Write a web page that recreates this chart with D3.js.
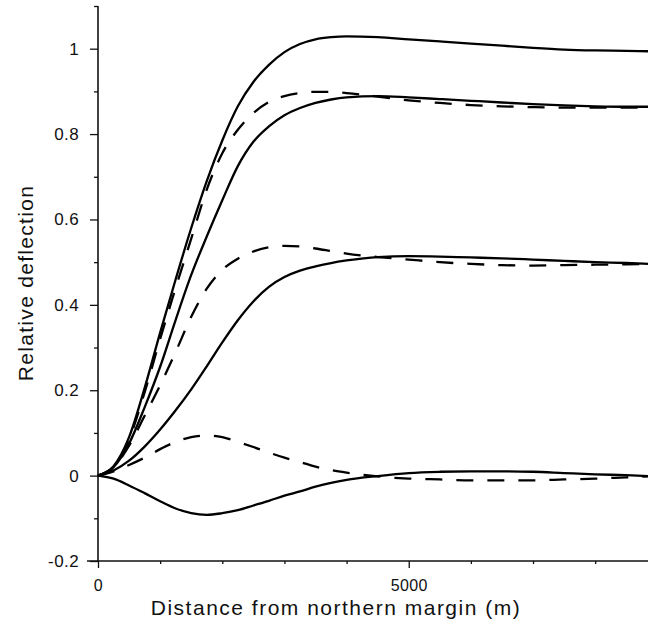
<!DOCTYPE html>
<html>
<head>
  <meta charset="utf-8">
  <title>Relative deflection</title>
  <script src="https://d3js.org/d3.v7.min.js"></script>
  <style>
    body { margin: 0; background: #fff; }
    text { font-family: "Liberation Sans", Arial, sans-serif; fill: #111; }
  </style>
</head>
<body>
  <script>
    // distance from northern margin (m), shared by every curve
    const distance = [0, 250, 500, 750, 1000, 1250, 1500, 1750, 2000, 2250, 2500, 2750, 3000, 3250,
      3500, 3750, 4000, 4500, 5000, 5500, 6000, 6500, 7000, 7500, 8000, 8500, 8850];

    // solid curves
    const solid1 = [0, 0.022, 0.09, 0.205, 0.335, 0.46, 0.58, 0.69, 0.785, 0.865, 0.922, 0.962, 0.992, 1.011,
      1.022, 1.027, 1.029, 1.027, 1.022, 1.017, 1.012, 1.007, 1.002, 0.998, 0.996, 0.995, 0.994];
    const solid2 = [0, 0.02, 0.075, 0.16, 0.255, 0.365, 0.47, 0.56, 0.645, 0.725, 0.782, 0.818, 0.844, 0.861,
      0.873, 0.881, 0.886, 0.889, 0.886, 0.882, 0.878, 0.874, 0.87, 0.867, 0.865, 0.864, 0.864];
    const solid3 = [0, 0.012, 0.035, 0.068, 0.108, 0.153, 0.202, 0.256, 0.312, 0.364, 0.408, 0.442, 0.465, 0.48,
      0.49, 0.498, 0.504, 0.512, 0.514, 0.513, 0.511, 0.509, 0.506, 0.503, 0.5, 0.498, 0.496];
    const solid4 = [0, -0.007, -0.023, -0.041, -0.06, -0.077, -0.088, -0.092, -0.088, -0.081, -0.07, -0.059,
      -0.047, -0.037, -0.026, -0.017, -0.01, -0.001, 0.006, 0.009, 0.01, 0.01, 0.009, 0.006, 0.003, 0.001, -0.001];

    // dashed curves
    const dashed1 = [0, 0.02, 0.085, 0.195, 0.32, 0.44, 0.555, 0.67, 0.755, 0.81, 0.849, 0.875, 0.889, 0.896,
      0.899, 0.899, 0.896, 0.888, 0.879, 0.873, 0.868, 0.865, 0.863, 0.862, 0.862, 0.862, 0.862];
    const dashed2 = [0, 0.02, 0.07, 0.14, 0.212, 0.29, 0.372, 0.438, 0.482, 0.508, 0.525, 0.535, 0.538, 0.537,
      0.532, 0.526, 0.52, 0.512, 0.506, 0.5, 0.496, 0.493, 0.492, 0.493, 0.494, 0.495, 0.496];
    const dashed3 = [0, 0.01, 0.025, 0.042, 0.062, 0.079, 0.09, 0.094, 0.09, 0.079, 0.067, 0.054, 0.042, 0.032,
      0.021, 0.013, 0.007, -0.002, -0.007, -0.009, -0.011, -0.011, -0.011, -0.009, -0.007, -0.004, -0.002];

    const yMajor = [-0.2, 0, 0.2, 0.4, 0.6, 0.8, 1];
    const yMinor = [-0.1, 0.1, 0.3, 0.5, 0.7, 0.9, 1.1];
    const xMajor = [0, 5000];
    const xMinor = [1000, 2000, 3000, 4000, 6000, 7000, 8000];

    const width = 658, height = 628;
    const svg = d3.select('body').append('svg')
      .attr('width', width)
      .attr('height', height);

    const x = d3.scaleLinear().domain([0, 8850]).range([98, 648]);
    const y = d3.scaleLinear().domain([-0.2, 1.1]).range([561, 6]);

    // axes
    const yAxis = svg.append('g').attr('transform', 'translate(98,0)')
      .call(d3.axisLeft(y).tickValues(yMajor).tickSize(8).tickPadding(11)
        .tickFormat(d => String(+d.toFixed(1))));
    svg.append('g').attr('transform', 'translate(98,0)')
      .call(d3.axisLeft(y).tickValues(yMinor).tickSize(4).tickFormat(''))
      .select('.domain').remove();

    const xAxis = svg.append('g').attr('transform', 'translate(0,561)')
      .call(d3.axisBottom(x).tickValues(xMajor).tickSize(7).tickPadding(12)
        .tickFormat(d => String(d)));
    svg.append('g').attr('transform', 'translate(0,561)')
      .call(d3.axisBottom(x).tickValues(xMinor).tickSize(3).tickFormat(''))
      .select('.domain').remove();

    svg.selectAll('.domain').attr('stroke', '#111').attr('stroke-width', 1.6);
    svg.selectAll('.tick line').attr('stroke', '#111').attr('stroke-width', 1.3);
    svg.selectAll('.tick text')
      .attr('font-size', 17)
      .attr('letter-spacing', 0.4)
      .attr('font-family', '"Liberation Sans", Arial, sans-serif');
    xAxis.selectAll('.tick text').attr('font-size', 16);
    yAxis.select('.domain').attr('d', 'M0,' + y(-0.2) + 'V' + y(1.1));
    xAxis.select('.domain').attr('d', 'M' + (x(0) - 11) + ',0H' + x(8850));

    // axis titles
    svg.append('text')
      .attr('x', 336).attr('y', 615)
      .attr('text-anchor', 'middle')
      .attr('font-size', 21)
      .attr('letter-spacing', 1.5)
      .text('Distance from northern margin (m)');
    svg.append('text')
      .attr('transform', 'translate(33,283) rotate(-90)')
      .attr('text-anchor', 'middle')
      .attr('font-size', 21)
      .attr('letter-spacing', 1.3)
      .text('Relative deflection');

    // curves
    const line = d3.line()
      .x((d, i) => x(distance[i]))
      .y(d => y(d))
      .curve(d3.curveMonotoneX);

    const series = [
      { values: solid1, dash: null },
      { values: solid2, dash: null },
      { values: solid3, dash: null },
      { values: solid4, dash: null },
      { values: dashed1, dash: '17,14' },
      { values: dashed2, dash: '17,14' },
      { values: dashed3, dash: '17,14' }
    ];

    svg.selectAll('path.curve')
      .data(series)
      .enter()
      .append('path')
      .attr('class', 'curve')
      .attr('d', d => line(d.values))
      .attr('fill', 'none')
      .attr('stroke', '#000')
      .attr('stroke-width', 2.3)
      .attr('stroke-dasharray', d => d.dash);
  </script>
</body>
</html>
